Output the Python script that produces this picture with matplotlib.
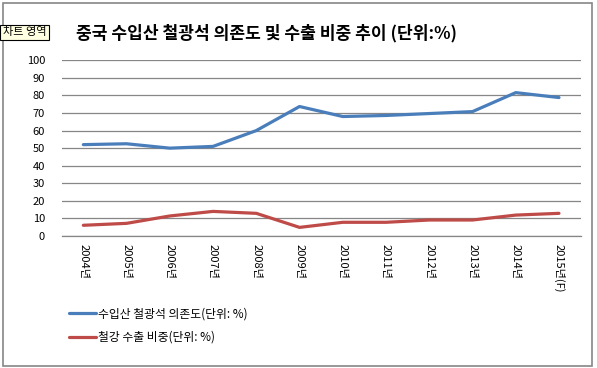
import matplotlib
matplotlib.use("Agg")
import matplotlib.pyplot as plt
from matplotlib.patches import Rectangle

plt.rcParams['font.family'] = ['Noto Sans CJK KR', 'DejaVu Sans']

years = ["2004년", "2005년", "2006년", "2007년", "2008년", "2009년",
         "2010년", "2011년", "2012년", "2013년", "2014년", "2015년(F)"]
dependence = [52, 52.5, 50, 51, 60, 73.7, 68, 68.6, 69.7, 70.8, 81.6, 78.8]
export_share = [6.1, 7.2, 11.4, 14, 12.9, 4.9, 7.8, 7.8, 9.1, 9.1, 11.9, 12.9]
series_names = ["수입산 철광석 의존도(단위: %)", "철강 수출 비중(단위: %)"]
title = "중국 수입산 철광석 의존도 및 수출 비중 추이 (단위:%)"

W, H = 597, 368
fig = plt.figure(figsize=(W / 100, H / 100), dpi=100)

# chart area border
fig.patches.append(Rectangle((3 / W, 1 - 366 / H), 589 / W, 363 / H,
                             transform=fig.transFigure, fill=False,
                             edgecolor="#868686", linewidth=1.2))

ax = fig.add_axes([61.7 / W, 1 - 236 / H, (580.6 - 61.7) / W, (236 - 60.3) / H])
x = list(range(len(years)))
l1, = ax.plot(x, dependence, color="#4A7EBB", linewidth=2.3, solid_capstyle="round")
l2, = ax.plot(x, export_share, color="#BE4B48", linewidth=2.3, solid_capstyle="round")

ax.set_xlim(-0.5, len(years) - 0.5)
ax.set_ylim(0, 100)
ax.set_yticks(range(0, 101, 10))
ax.yaxis.grid(True, color="#868686", linewidth=0.9)
ax.set_axisbelow(True)
for s in ["top", "right", "left"]:
    ax.spines[s].set_visible(False)
ax.spines["bottom"].set_color("#868686")
ax.spines["bottom"].set_linewidth(0.9)
ax.tick_params(axis="y", length=0, labelsize=8, pad=12)
ax.set_xticks(x)
ax.set_xticklabels(years, rotation=270, fontsize=8, va="top", ha="center")
ax.tick_params(axis="x", length=0, pad=6)

fig.text(267 / W, 1 - 33 / H, title, fontsize=12.3, fontweight="bold",
         ha="center", va="center")

# "차트 영역" tooltip
fig.text(3 / W, 1 - 32.5 / H, "차트 영역", fontsize=8, ha="left", va="center",
         bbox=dict(boxstyle="square,pad=0.25", facecolor="#FFFFE1",
                   edgecolor="black", linewidth=0.8))

fig.legend([l1, l2], series_names, loc="upper left",
           bbox_to_anchor=(58 / W, 1 - 297 / H), frameon=False,
           fontsize=8.5, handlelength=2.3, handletextpad=0.15,
           labelspacing=0.85)

fig.savefig("out.png", dpi=100)
